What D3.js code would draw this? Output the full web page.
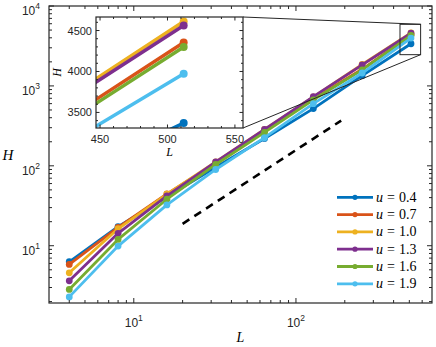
<!DOCTYPE html>
<html lang="en">
<head>
<meta charset="UTF-8">
<title>H vs L</title>
<script src="https://d3js.org/d3.v7.min.js"></script>
<style>
    body { margin: 0; background: #fff; }
    .tick-label { font-family: "Liberation Sans", Arial, sans-serif; fill: #262626; }
    .math { font-family: "Liberation Serif", "DejaVu Serif", serif; fill: #000; }
</style>
</head>
<body>
<div id="chart"></div>
<script>
// system sizes and H for each u
const sizes = [4, 8, 16, 32, 64, 128, 256, 512];
const uValues = ["0.4", "0.7", "1.0", "1.3", "1.6", "1.9"];
const colors = ["#0072BD", "#D95319", "#EDB120", "#7E2F8E", "#77AC30", "#4DBEEE"];
const H_u04 = [6.3, 17.3, 41, 96, 220, 520, 1344, 3371];
const H_u07 = [5.83, 17.0, 44.5, 108, 270, 690, 1614, 4354];
const H_u10 = [4.58, 16.3, 44.2, 112, 285, 730, 1853, 4610];
const H_u13 = [3.64, 14.3, 42, 112, 285, 735, 1837, 4561];
const H_u16 = [2.84, 12.0, 38.2, 104, 262, 670, 1585, 4298];
const H_u19 = [2.29, 9.9, 32.4, 90, 225, 600, 1450, 3972];

// dashed guide line
const guideL = [20, 190];
const guideH = [18.8, 368];

// zoom box drawn on the main axes
const boxL = [438, 587];
const boxH = [2460, 5900];

// tick values
const xMajor = [10, 100];
const yMajor = [10, 100, 1000, 10000];
const insetXTicks = [450, 500, 550];
const insetYTicks = [3500, 4000, 4500];

const series = [H_u04, H_u07, H_u10, H_u13, H_u16, H_u19].map((h, i) => ({
    u: uValues[i],
    color: colors[i],
    points: sizes.map((L, j) => ({ L, H: h[j] }))
}));

const W = 436, Hgt = 347;
const svg = d3.select("#chart").append("svg")
    .attr("width", W).attr("height", Hgt);

// ---------- main axes ----------
const m = { left: 49, right: 432, top: 6, bottom: 303 };
const x = d3.scaleLog().domain([3, 690]).range([m.left, m.right]);
const y = d3.scaleLog().domain([1.92, 10000]).range([m.bottom, m.top]);

function minorLog(domain) {
    const out = [];
    for (let d = 1; d <= 10000; d *= 10)
        for (let k = 2; k <= 9; k++) {
            const v = k * d;
            if (v > domain[0] && v < domain[1]) out.push(v);
        }
    return out;
}

function drawTicks(g, xs, ys, xMaj, xMin, yMaj, yMin, majLen, minLen, box) {
    const t = g.append("g").attr("stroke", "#262626").attr("stroke-width", 1);
    [[xMaj, majLen], [xMin, minLen]].forEach(([vals, len]) => {
        vals.forEach(v => {
            const px = xs(v);
            t.append("line").attr("x1", px).attr("x2", px).attr("y1", box.bottom).attr("y2", box.bottom - len);
            t.append("line").attr("x1", px).attr("x2", px).attr("y1", box.top).attr("y2", box.top + len);
        });
    });
    [[yMaj, majLen], [yMin, minLen]].forEach(([vals, len]) => {
        vals.forEach(v => {
            const py = ys(v);
            t.append("line").attr("y1", py).attr("y2", py).attr("x1", box.left).attr("x2", box.left + len);
            t.append("line").attr("y1", py).attr("y2", py).attr("x1", box.right).attr("x2", box.right - len);
        });
    });
}

const line = d3.line().x(d => x(d.L)).y(d => y(d.H));

const main = svg.append("g");
series.forEach(s => {
    main.append("path")
        .attr("d", line(s.points))
        .attr("fill", "none")
        .attr("stroke", s.color)
        .attr("stroke-width", 2.8)
        .attr("stroke-linejoin", "round");
    main.selectAll(null).data(s.points).enter().append("circle")
        .attr("cx", d => x(d.L)).attr("cy", d => y(d.H))
        .attr("r", 3.4).attr("fill", s.color);
});

main.append("path")
    .attr("d", line(guideL.map((L, i) => ({ L, H: guideH[i] }))))
    .attr("stroke", "#000").attr("stroke-width", 2.6)
    .attr("stroke-dasharray", "8,6").attr("fill", "none");

main.append("rect")
    .attr("x", x(boxL[0])).attr("y", y(boxH[1]))
    .attr("width", x(boxL[1]) - x(boxL[0]))
    .attr("height", y(boxH[0]) - y(boxH[1]))
    .attr("fill", "none").attr("stroke", "#262626").attr("stroke-width", 1);

drawTicks(svg, x, y, xMajor, minorLog([3, 690]), yMajor, minorLog([1.92, 10000]), 5, 3, m);

svg.append("rect")
    .attr("x", m.left).attr("y", m.top)
    .attr("width", m.right - m.left).attr("height", m.bottom - m.top)
    .attr("fill", "none").attr("stroke", "#262626").attr("stroke-width", 1.2);

// log tick labels with superscripts
xMajor.forEach(v => {
    const t = svg.append("text").attr("class", "tick-label")
        .attr("x", x(v)).attr("y", 327).attr("text-anchor", "middle")
        .style("font-size", "12px");
    t.append("tspan").text("10");
    t.append("tspan").attr("dy", -6).style("font-size", "8.5px").text(Math.round(Math.log10(v)));
});
yMajor.forEach(v => {
    const t = svg.append("text").attr("class", "tick-label")
        .attr("x", 40).attr("y", y(v) + 9).attr("text-anchor", "end")
        .style("font-size", "12px");
    t.append("tspan").text("10");
    t.append("tspan").attr("dy", -6).style("font-size", "8.5px").text(Math.round(Math.log10(v)));
});

svg.append("text").attr("class", "math")
    .attr("x", (m.left + m.right) / 2).attr("y", 342)
    .attr("text-anchor", "middle").style("font-size", "14px").style("font-style", "italic")
    .text("L");
svg.append("text").attr("class", "math")
    .attr("x", 8).attr("y", 160)
    .attr("text-anchor", "middle").style("font-size", "15px").style("font-style", "italic")
    .text("H");

// ---------- legend ----------
const legend = svg.append("g");
series.forEach((s, i) => {
    const ly = 197.3 + i * 17.3;
    legend.append("line").attr("x1", 337).attr("x2", 373).attr("y1", ly).attr("y2", ly)
        .attr("stroke", s.color).attr("stroke-width", 2.8);
    legend.append("circle").attr("cx", 355).attr("cy", ly).attr("r", 2.6).attr("fill", s.color);
    const t = legend.append("text").attr("class", "math")
        .attr("x", 376).attr("y", ly + 4.5).style("font-size", "14px");
    t.append("tspan").style("font-style", "italic").text("u");
    t.append("tspan").attr("dx", 4).text("=");
    t.append("tspan").attr("dx", 4).text(s.u);
});

// ---------- inset ----------
const ib = { left: 96, right: 243, top: 17, bottom: 128 };
const ix = d3.scaleLinear().domain([447, 556]).range([ib.left, ib.right]);
const iy = d3.scaleLinear().domain([3310, 4665]).range([ib.bottom, ib.top]);

// connectors from inset to zoom box
svg.append("line").attr("x1", ib.right).attr("y1", ib.top)
    .attr("x2", x(boxL[1])).attr("y2", y(boxH[1]))
    .attr("stroke", "#262626").attr("stroke-width", 1);
svg.append("line").attr("x1", ib.right).attr("y1", ib.bottom)
    .attr("x2", x(boxL[1])).attr("y2", y(boxH[0]))
    .attr("stroke", "#262626").attr("stroke-width", 1);

svg.append("rect")
    .attr("x", ib.left).attr("y", ib.top)
    .attr("width", ib.right - ib.left).attr("height", ib.bottom - ib.top)
    .attr("fill", "#fff");

svg.append("clipPath").attr("id", "inset-clip")
  .append("rect")
    .attr("x", ib.left).attr("y", ib.top)
    .attr("width", ib.right - ib.left).attr("height", ib.bottom - ib.top);

const iline = d3.line().x(d => ix(d.L)).y(d => iy(d.H));
const inset = svg.append("g").attr("clip-path", "url(#inset-clip)");
series.forEach(s => {
    inset.append("path")
        .attr("d", iline(s.points))
        .attr("fill", "none").attr("stroke", s.color)
        .attr("stroke-width", 3.5);
    inset.selectAll(null).data(s.points).enter().append("circle")
        .attr("cx", d => ix(d.L)).attr("cy", d => iy(d.H))
        .attr("r", 4).attr("fill", s.color);
});

drawTicks(svg, ix, iy, insetXTicks, d3.range(450, 556, 10).filter(v => v % 50 !== 0),
    insetYTicks, d3.range(3400, 4665, 100).filter(v => v % 500 !== 0), 3.5, 2, ib);

svg.append("rect")
    .attr("x", ib.left).attr("y", ib.top)
    .attr("width", ib.right - ib.left).attr("height", ib.bottom - ib.top)
    .attr("fill", "none").attr("stroke", "#262626").attr("stroke-width", 1.2);

insetXTicks.forEach(v => {
    svg.append("text").attr("class", "tick-label")
        .attr("x", ix(v)).attr("y", 143).attr("text-anchor", "middle")
        .style("font-size", "11px").text(v);
});
insetYTicks.forEach(v => {
    svg.append("text").attr("class", "tick-label")
        .attr("x", 92).attr("y", iy(v) + 4).attr("text-anchor", "end")
        .style("font-size", "11px").text(v);
});
svg.append("text").attr("class", "math")
    .attr("x", (ib.left + ib.right) / 2).attr("y", 156)
    .attr("text-anchor", "middle").style("font-size", "12px").style("font-style", "italic")
    .text("L");
svg.append("text").attr("class", "math")
    .attr("transform", `translate(61,${(ib.top + ib.bottom) / 2}) rotate(-90)`)
    .attr("text-anchor", "middle").style("font-size", "12px").style("font-style", "italic")
    .text("H");
</script>
</body>
</html>
